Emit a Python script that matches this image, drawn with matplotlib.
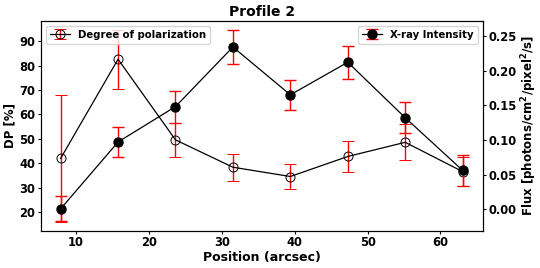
import numpy as np
import matplotlib
matplotlib.use('Agg')
import matplotlib.pyplot as plt

# Positions along the profile (arcsec)
position = [7.88, 15.76, 23.64, 31.52, 39.40, 47.28, 55.16, 63.04]

# Degree of polarization (%) and errors
dp = [42.0, 82.6, 49.6, 38.4, 34.6, 42.8, 48.6, 36.6]
dp_err = [26.0, 12.0, 7.0, 5.5, 5.0, 6.2, 7.3, 6.0]

# X-ray flux and errors
flux = [0.0005, 0.097, 0.148, 0.234, 0.165, 0.212, 0.132, 0.056]
flux_err = [0.018, 0.021, 0.023, 0.024, 0.022, 0.024, 0.022, 0.022]

plt.rcParams['font.weight'] = 'bold'
plt.rcParams['axes.labelweight'] = 'bold'

fig, ax = plt.subplots(figsize=(5.4, 2.68), dpi=100)
plt.subplots_adjust(left=0.075, right=0.894, top=0.923, bottom=0.139)

ax.errorbar(position, dp, yerr=dp_err, fmt='o-', color='black', ecolor='red',
            mfc='none', mec='black', mew=0.7, ms=6.5, lw=0.9, elinewidth=1.0,
            capsize=4.5, label='Degree of polarization')
ax.set_ylabel('DP [%]', fontsize=8.5, labelpad=2)
ax.set_xlabel('Position (arcsec)', fontsize=9, labelpad=1)
ax.set_ylim(12.4, 98.4)
ax.set_xlim(5.12, 65.8)
ax.tick_params(labelsize=8.3, length=2.5, pad=1.5)
ax.legend(loc='upper left', fontsize=7.3, handlelength=2.0, borderpad=0.4)

ax2 = ax.twinx()
ax2.errorbar(position, flux, yerr=flux_err, fmt='o-', color='black', ecolor='red',
             ms=6.5, lw=0.9, elinewidth=1.0, capsize=4.5, label='X-ray Intensity')
ax2.set_ylabel('Flux [photons/cm$^2$/pixel$^2$/s]', fontsize=8.5, labelpad=2)
ax2.set_ylim(-0.031, 0.272)
ax2.set_yticks([0.0, 0.05, 0.10, 0.15, 0.20, 0.25])
ax2.tick_params(labelsize=8.3, length=2.5, pad=1.5)
ax2.legend(loc='upper right', fontsize=7.3, handlelength=2.0, borderpad=0.4)

ax.set_title('Profile 2', fontsize=10, fontweight='bold', pad=3)

plt.savefig('out.png', dpi=100)
